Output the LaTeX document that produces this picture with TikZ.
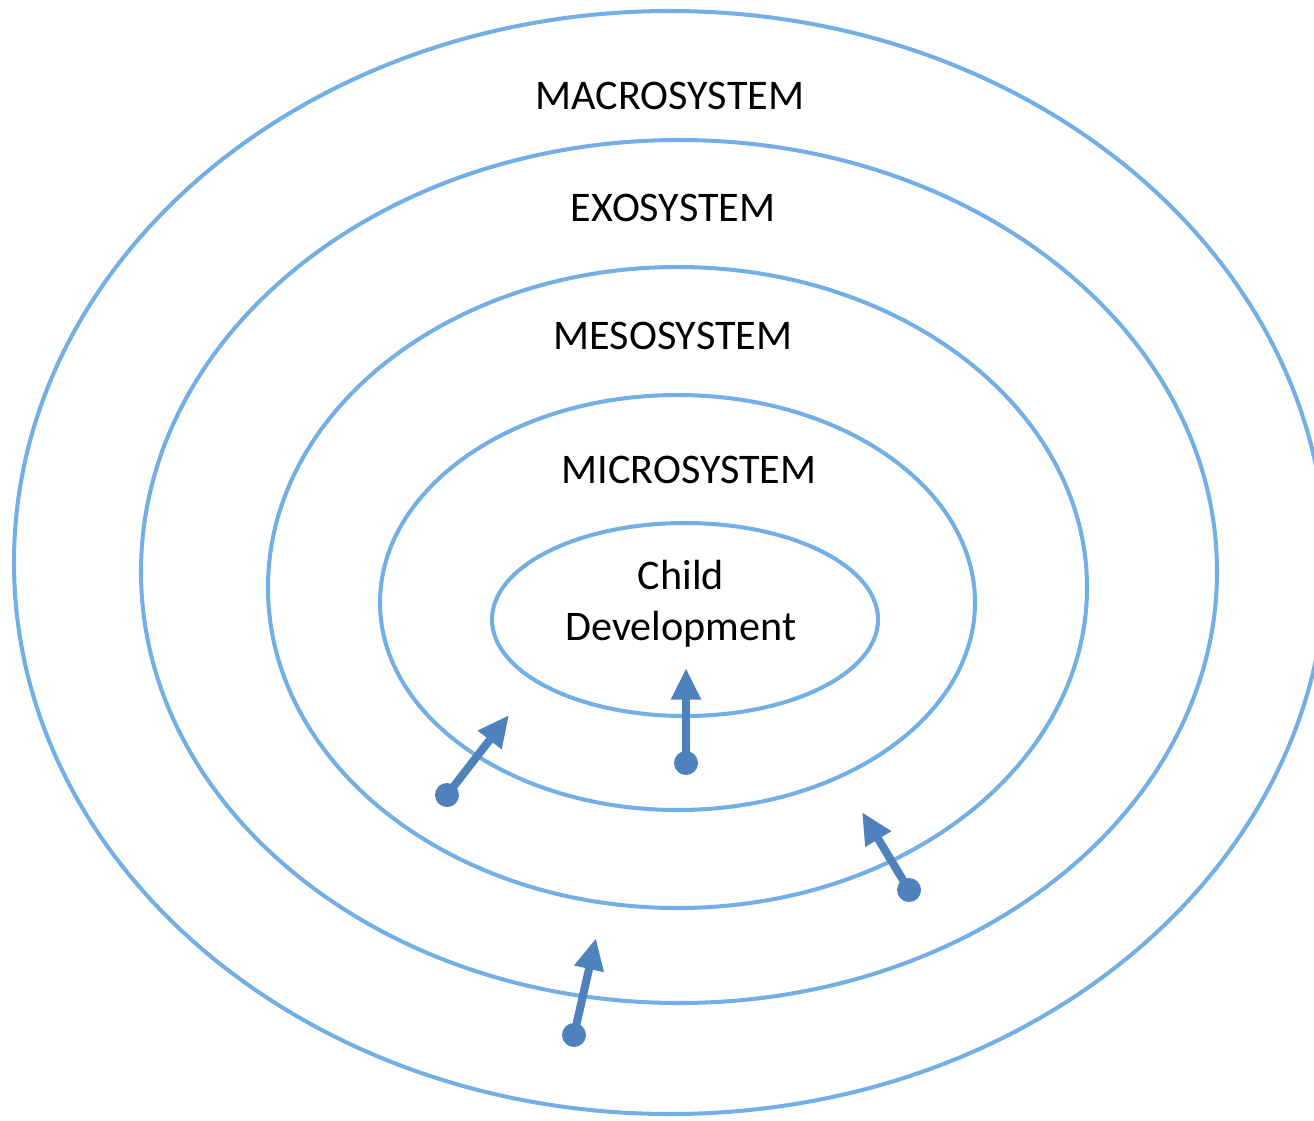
\documentclass[tikz,border=0pt]{standalone}
\usepackage{fontspec}
\setmainfont{Carlito}
\usetikzlibrary{arrows.meta}
\definecolor{ringblue}{RGB}{115,175,228}
\definecolor{arrowblue}{RGB}{79,129,189}
\begin{document}
\begin{tikzpicture}[x=0.02cm,y=-0.02cm,
  ring/.style={draw=ringblue,line width=2.3pt},
  lbl/.style={font=\fontsize{24}{29}\selectfont,align=center,inner sep=0pt},
  infl/.style={draw=arrowblue,line width=4.6pt,-{Triangle[length=18pt,width=16pt]}},
  dotstyle/.style={fill=arrowblue}]
\useasboundingbox (0,0) rectangle (1314,1120);
\clip (0,0) rectangle (1314,1120);
% rings
\draw[ring] (670,562.5) ellipse [x radius={656*0.02cm}, y radius={551.5*0.02cm}];
\draw[ring] (679,571.5) ellipse [x radius={538*0.02cm}, y radius={431.5*0.02cm}];
\draw[ring] (677.5,587.5) ellipse [x radius={409.5*0.02cm}, y radius={320.5*0.02cm}];
\draw[ring] (677.5,602.5) ellipse [x radius={297.5*0.02cm}, y radius={207.5*0.02cm}];
\draw[ring] (685,619.5) ellipse [x radius={193*0.02cm}, y radius={96.5*0.02cm}];
% labels
\node[lbl] (macro) at (670,96) {MACROSYSTEM};
\node[lbl] (exo) at (673,208) {EXOSYSTEM};
\node[lbl] (meso) at (673,336) {MESOSYSTEM};
\node[lbl] (micro) at (689,470) {MICROSYSTEM};
\node[lbl] (child) at (681,604) {Child\\Development};
% arrows
\coordinate (s1) at (447,795); \coordinate (t1) at (509,715);
\coordinate (s2) at (686,763); \coordinate (t2) at (686,668);
\coordinate (s3) at (909,890); \coordinate (t3) at (862,812);
\coordinate (s4) at (574,1035); \coordinate (t4) at (596,938);
\foreach \i in {1,2,3,4}{
  \draw[infl] (s\i) -- (t\i);
  \fill[dotstyle] (s\i) circle [radius=0.24cm];
}
\end{tikzpicture}
\end{document}
